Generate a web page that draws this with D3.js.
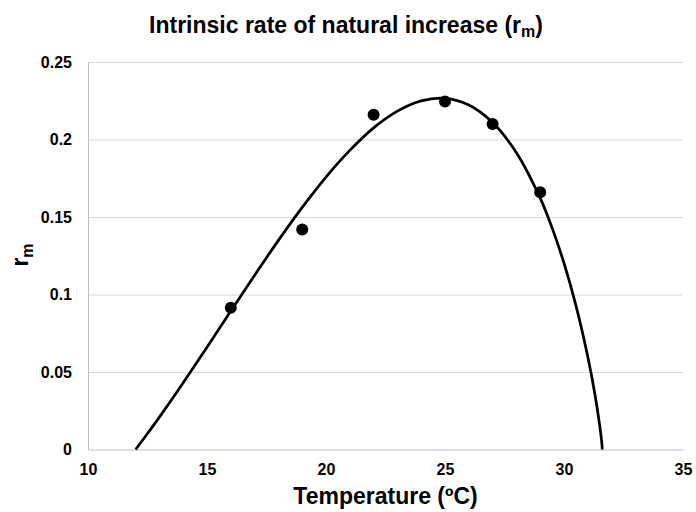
<!DOCTYPE html>
<html>
  <head>
    <meta charset="UTF-8" />
    <script src="https://cdnjs.cloudflare.com/ajax/libs/d3/7.8.5/d3.min.js"></script>
    <style>
      body { margin: 0; background: #fff; }
      text { font-family: "Liberation Sans", Arial, sans-serif; font-weight: bold; fill: #000; }
      .grid line { stroke: #d9d9d9; }
      .axis path.domain { stroke: #bfbfbf; }
    </style>
  </head>
  <body>
    <svg id="chart" width="696" height="512"></svg>
    <script>
      // observed rm by temperature
      const temps = [16, 19, 22, 25, 27, 29];
      const rm = [0.0915, 0.142, 0.216, 0.2245, 0.21, 0.166];

      // fitted curve
      const curveT = [12, 12.5, 13, 14, 15, 16, 17, 18, 19, 20, 21, 22, 23, 24, 25, 26, 27, 28, 29, 29.5, 30, 30.5, 31, 31.3, 31.5, 31.58, 31.61];
      const curveR = [0, 0.0103, 0.0209, 0.0431, 0.066, 0.0893, 0.1124, 0.1349, 0.1562, 0.1758, 0.193, 0.2075, 0.2183, 0.2249, 0.2265, 0.2222, 0.2109, 0.1915, 0.1622, 0.143, 0.1202, 0.093, 0.0598, 0.0355, 0.0156, 0.0055, 0];

      const xTicks = [10, 15, 20, 25, 30, 35];
      const yTicks = [0, 0.05, 0.1, 0.15, 0.2, 0.25];

      const svg = d3.select("#chart");
      const mLeft = 88, mRight = 683, mTop = 62, mBottom = 449.5;

      const x = d3.scaleLinear().domain([10, 35]).range([mLeft, mRight]);
      const y = d3.scaleLinear().domain([0, 0.25]).range([mBottom, mTop]);

      // horizontal gridlines
      svg.append("g")
        .attr("class", "grid")
        .attr("transform", `translate(${mLeft},0)`)
        .call(d3.axisLeft(y).tickValues(yTicks.slice(1)).tickSize(-(mRight - mLeft)).tickFormat(""))
        .call(g => g.select(".domain").remove());

      const yAxis = svg.append("g")
        .attr("class", "axis")
        .attr("transform", `translate(${mLeft},0)`)
        .call(d3.axisLeft(y).tickValues(yTicks).tickSize(0).tickPadding(16).tickFormat(d => d3.format("")(d)));
      yAxis.selectAll("text").style("font-size", "16px");

      const xAxis = svg.append("g")
        .attr("class", "axis")
        .attr("transform", `translate(0,${mBottom})`)
        .call(d3.axisBottom(x).tickValues(xTicks).tickSize(0).tickPadding(14));
      xAxis.selectAll("text").style("font-size", "16px");

      const line = d3.line()
        .x((d, i) => x(curveT[i]))
        .y((d, i) => y(curveR[i]))
        .curve(d3.curveCatmullRom);

      svg.append("path")
        .datum(curveR)
        .attr("d", line)
        .attr("fill", "none")
        .attr("stroke", "#000")
        .attr("stroke-width", 2.75);

      svg.selectAll("circle.pt")
        .data(temps)
        .join("circle")
        .attr("class", "pt")
        .attr("cx", d => x(d))
        .attr("cy", (d, i) => y(rm[i]))
        .attr("r", 6)
        .attr("fill", "#000");

      // title
      const title = svg.append("text")
        .attr("x", 346)
        .attr("y", 33)
        .attr("text-anchor", "middle")
        .style("font-size", "23px");
      title.append("tspan").text("Intrinsic rate of natural increase (r");
      title.append("tspan").text("m").attr("dy", 4).style("font-size", "16px");
      title.append("tspan").text(")").attr("dy", -4);

      svg.append("text")
        .attr("x", (mLeft + mRight) / 2)
        .attr("y", 504)
        .attr("text-anchor", "middle")
        .style("font-size", "23px")
        .text("Temperature (ºC)");

      const yl = svg.append("text")
        .attr("transform", "translate(28,255) rotate(-90)")
        .attr("text-anchor", "middle")
        .style("font-size", "23px");
      yl.append("tspan").text("r");
      yl.append("tspan").text("m").attr("dy", 5).style("font-size", "16px");
    </script>
  </body>
</html>
